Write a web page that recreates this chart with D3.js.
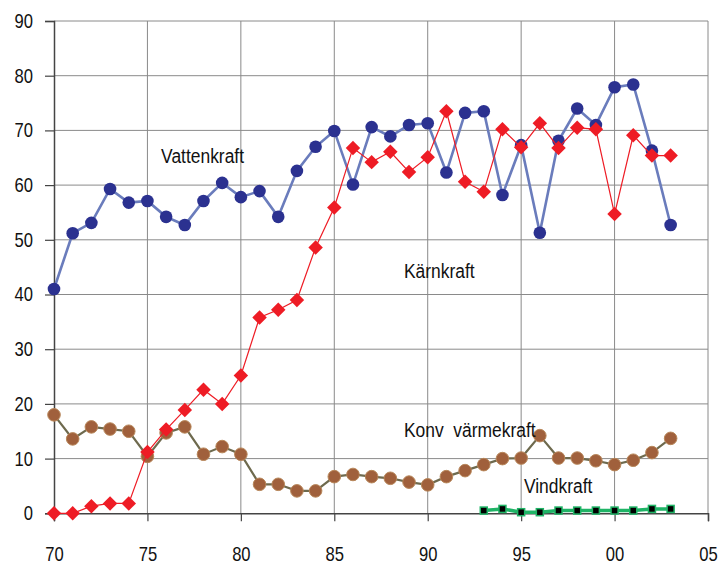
<!DOCTYPE html>
<html><head><meta charset="utf-8">
<script src="https://cdn.jsdelivr.net/npm/d3@7"></script>
<style>
html,body{margin:0;padding:0;background:#fff;}
svg text{font-family:"Liberation Sans Narrow","Arial Narrow","Liberation Sans",Arial,sans-serif;fill:#111;white-space:pre;}
</style></head>
<body><svg id="c" width="718" height="566"></svg>
<script>
const years = d3.range(1970, 2004);
const vattenkraft = [41.0,51.2,53.1,59.3,56.8,57.1,54.2,52.7,57.1,60.4,57.8,58.9,54.2,62.6,67.0,69.9,60.1,70.6,68.9,71.0,71.3,62.3,73.2,73.5,58.2,67.3,51.3,68.1,74.0,71.0,77.9,78.4,66.3,52.7];
const karnkraft = [0,0,1.3,1.8,1.8,11.2,15.3,18.9,22.6,20.0,25.2,35.8,37.2,39.0,48.6,55.9,66.8,64.2,66.1,62.4,65.1,73.5,60.6,58.8,70.2,66.9,71.3,66.8,70.5,70.2,54.7,69.1,65.4,65.4];
const konvVarmekraft = [18.0,13.6,15.8,15.4,15.0,10.4,14.7,15.8,10.8,12.2,10.8,5.3,5.3,4.1,4.1,6.7,7.1,6.7,6.4,5.7,5.2,6.7,7.8,8.9,10.0,10.1,14.2,10.1,10.1,9.6,8.9,9.7,11.1,13.7];
const vindYears = d3.range(1993, 2004);
const vindkraft = [0.5,0.8,0.2,0.2,0.5,0.5,0.5,0.5,0.5,0.8,0.8];
const xTicks = [1970,1975,1980,1985,1990,1995,2000,2005];
const xTickLabels = ["70","75","80","85","90","95","00","05"];
const yTicks = [0,10,20,30,40,50,60,70,80,90];
const seriesLabels = [
  {text:"Vattenkraft", year:1975.73, value:64.0},
  {text:"Kärnkraft", year:1988.73, value:43.0},
  {text:"Konv  värmekraft", year:1988.73, value:13.95},
  {text:"Vindkraft", year:1995.15, value:3.7}
];

const SX = 0.83; // condensed face
const svg = d3.select("#c");
const x = d3.scaleLinear().domain([1970, 2005]).range([54, 708]);
const y = d3.scaleLinear().domain([0, 90]).range([513.3, 21]);

function condense(sel){
  sel.each(function(){
    const t = d3.select(this);
    const xv = +t.attr("x") || 0;
    const yv = +t.attr("y") || 0;
    t.attr("x", 0).attr("y", 0).attr("transform", `translate(${xv},${yv}) scale(${SX},1)`);
  });
}

// grid
svg.append("g").selectAll("line").data(yTicks.filter(d=>d>0)).join("line")
  .attr("x1", x(1970)).attr("x2", x(2005)).attr("y1", d=>y(d)).attr("y2", d=>y(d))
  .attr("stroke", "#8a8a8a").attr("stroke-width", 1);
svg.append("g").selectAll("line").data(xTicks.filter(d=>d>1970)).join("line")
  .attr("x1", d=>x(d)).attr("x2", d=>x(d)).attr("y1", y(0)).attr("y2", y(90))
  .attr("stroke", "#8a8a8a").attr("stroke-width", 1);

// axes
const yAxis = d3.axisLeft(y).tickValues(yTicks).tickSize(9).tickPadding(12).tickFormat(d3.format("d"));
const gy = svg.append("g").attr("transform", `translate(${x(1970)},0)`).call(yAxis);
gy.select(".domain").attr("stroke", "#444").attr("stroke-width", 1.5);
gy.selectAll(".tick line").attr("stroke", "#444").attr("stroke-width", 1.2);
gy.selectAll(".tick text").attr("font-size", 20).attr("fill", "#111").call(condense);

const xAxis = d3.axisBottom(x).tickValues(xTicks).tickSize(8).tickPadding(25)
  .tickFormat((d,i)=>xTickLabels[i]);
const gx = svg.append("g").attr("transform", `translate(0,${y(0)})`).call(xAxis);
gx.select(".domain").attr("stroke", "#444").attr("stroke-width", 1.5);
gx.selectAll(".tick line").attr("stroke", "#444").attr("stroke-width", 1.2);
gx.selectAll(".tick text").attr("font-size", 20).attr("fill", "#111").call(condense);

const line = d3.line().x(d=>x(d[0])).y(d=>y(d[1]));
const vData = years.map((yr,i)=>[yr, vattenkraft[i]]);
const kData = years.map((yr,i)=>[yr, karnkraft[i]]);
const cData = years.map((yr,i)=>[yr, konvVarmekraft[i]]);
const wData = vindYears.map((yr,i)=>[yr, vindkraft[i]]);

// Konv värmekraft
svg.append("path").datum(cData).attr("d", line).attr("fill","none")
  .attr("stroke","#6e6a4e").attr("stroke-width",2.2);
svg.append("g").selectAll("circle").data(cData).join("circle")
  .attr("cx", d=>x(d[0])).attr("cy", d=>y(d[1])).attr("r", 6.3)
  .attr("fill","#a0603c").attr("stroke","#b8875a").attr("stroke-width",1);

// Vattenkraft
svg.append("path").datum(vData).attr("d", line).attr("fill","none")
  .attr("stroke","#6a7cbc").attr("stroke-width",2.6);
svg.append("g").selectAll("circle").data(vData).join("circle")
  .attr("cx", d=>x(d[0])).attr("cy", d=>y(d[1])).attr("r", 6.3)
  .attr("fill","#2b3190");

// Kärnkraft
svg.append("path").datum(kData).attr("d", line).attr("fill","none")
  .attr("stroke","#ee1c25").attr("stroke-width",1.2);
svg.append("g").selectAll("path").data(kData).join("path")
  .attr("transform", d=>`translate(${x(d[0])},${y(d[1])}) rotate(45)`)
  .attr("d", d3.symbol().type(d3.symbolSquare).size(105))
  .attr("fill","#ee1c25");

// Vindkraft
svg.append("path").datum(wData).attr("d", line).attr("fill","none")
  .attr("stroke","#1fb466").attr("stroke-width",3.5);
svg.append("g").selectAll("rect").data(wData).join("rect")
  .attr("x", d=>x(d[0])-3.5).attr("y", d=>y(d[1])-3.5).attr("width",7).attr("height",7)
  .attr("fill","#000").attr("stroke","#1fb466").attr("stroke-width",1.5);

// labels
svg.append("g").selectAll("text").data(seriesLabels).join("text")
  .attr("x", d=>x(d.year)).attr("y", d=>y(d.value))
  .attr("font-size", 21).attr("fill","#111").text(d=>d.text).call(condense);
</script></body></html>
